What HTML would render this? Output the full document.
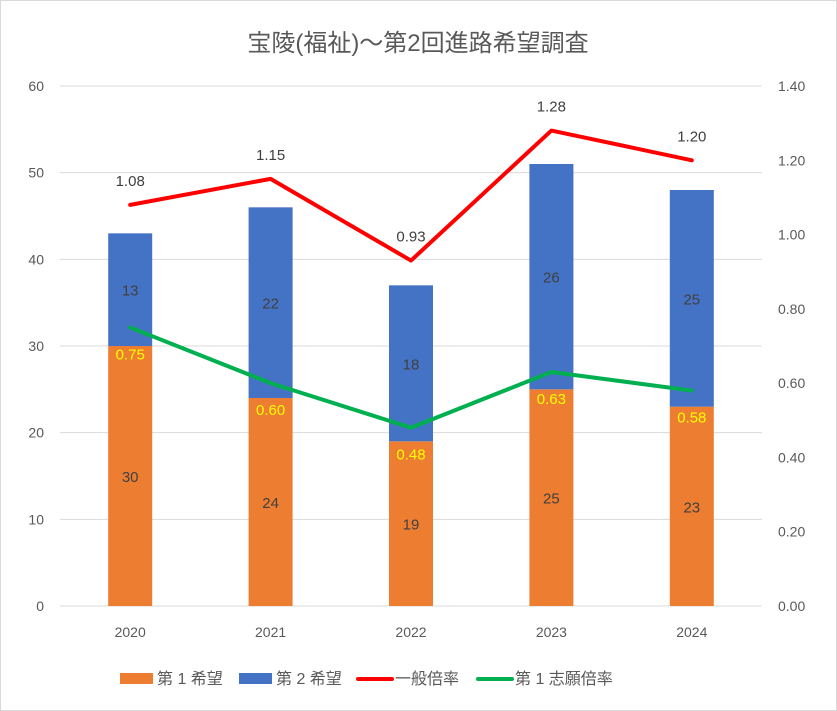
<!DOCTYPE html>
<html><head><meta charset="utf-8">
<style>
html,body{margin:0;padding:0;background:#fff;}
svg{display:block;font-family:"Liberation Sans","Noto Sans CJK JP",sans-serif;}
</style></head>
<body>
<svg id="chart" width="837" height="711" viewBox="0 0 837 711">
<rect x="0.5" y="0.5" width="836" height="710" fill="#fff" stroke="#d9d9d9"/>
<text x="418" y="51" text-anchor="middle" font-size="24" fill="#595959">宝陵(福祉)～第2回進路希望調査</text>
<g id="grid"></g><g id="bars"></g><g id="lines"></g><g id="labels"></g><g id="axes"></g>
<g>
<rect x="120" y="673" width="33" height="11" fill="#ed7d31"/>
<text x="157" y="684" font-size="16" fill="#595959">第 1 希望</text>
<rect x="239" y="673" width="33" height="11" fill="#4472c4"/>
<text x="276" y="684" font-size="16" fill="#595959">第 2 希望</text>
<line x1="358" y1="679" x2="392" y2="679" stroke="#ff0000" stroke-width="4" stroke-linecap="round"/>
<text x="395" y="684" font-size="16" fill="#595959">一般倍率</text>
<line x1="478" y1="679" x2="512" y2="679" stroke="#00b050" stroke-width="4" stroke-linecap="round"/>
<text x="515" y="684" font-size="16" fill="#595959">第 1 志願倍率</text>
</g>
</svg>
<script>
const categories=["2020","2021","2022","2023","2024"];
const firstChoice=[30,24,19,25,23];
const secondChoice=[13,22,18,26,25];
const generalRatio=[1.08,1.15,0.93,1.28,1.20];
const firstRatio=[0.75,0.60,0.48,0.63,0.58];
const leftTicks=[0,10,20,30,40,50,60];
const rightTicks=["0.00","0.20","0.40","0.60","0.80","1.00","1.20","1.40"];

const NS="http://www.w3.org/2000/svg";
const x0=60,x1=762,yBot=606,yTop=86;
const band=(x1-x0)/categories.length;
const xc=i=>x0+band*(i+0.5);
const yL=v=>yBot-v/60*(yBot-yTop);
const yR=v=>yBot-v/1.4*(yBot-yTop);
function mk(tag,attrs,parent,txt){const e=document.createElementNS(NS,tag);for(const k in attrs)e.setAttribute(k,attrs[k]);if(txt!==undefined)e.textContent=txt;document.getElementById(parent).appendChild(e);return e;}

leftTicks.forEach(t=>{
  const g=mk("line",{x1:x0,x2:x1,y1:yL(t),y2:yL(t),stroke:"#d9d9d9","stroke-width":1},"grid");
  
  
  const l=mk("text",{x:44,y:yL(t)+5,"text-anchor":"end","font-size":14,fill:"#595959"},"axes",String(t));
  
  
});
rightTicks.forEach(t=>{
  const l=mk("text",{x:778,y:yR(parseFloat(t))+5,"font-size":14,fill:"#595959"},"axes",t);
  
  
});
categories.forEach((c,i)=>{
  const l=mk("text",{x:xc(i),y:637,"text-anchor":"middle","font-size":14,fill:"#595959"},"axes",c);
  
  
});
const bw=44;
categories.forEach((c,i)=>{
  const f=firstChoice[i],s=secondChoice[i];
  const b1=mk("rect",{x:xc(i)-bw/2,y:yL(f),width:bw,height:yBot-yL(f),fill:"#ed7d31"},"bars");
  
  
  const b2=mk("rect",{x:xc(i)-bw/2,y:yL(f+s),width:bw,height:yL(f)-yL(f+s),fill:"#4472c4"},"bars");
  
  
  const t1=mk("text",{x:xc(i),y:(yL(f)+yBot)/2+6,"text-anchor":"middle","font-size":15,fill:"#404040"},"labels",String(f));
  
  
  const t2=mk("text",{x:xc(i),y:(yL(f)+yL(f+s))/2+6,"text-anchor":"middle","font-size":15,fill:"#404040"},"labels",String(s));
  
  
});
function line(arr,color,name){
  const p=mk("polyline",{points:arr.map((v,i)=>xc(i)+","+yR(v)).join(" "),fill:"none",stroke:color,"stroke-width":4,"stroke-linejoin":"round","stroke-linecap":"round"},"lines");
  
  
}
line(generalRatio,"#ff0000","line-general-ratio");
line(firstRatio,"#00b050","line-first-ratio");
generalRatio.forEach((v,i)=>{
  const t=mk("text",{x:xc(i),y:yR(v)-19,"text-anchor":"middle","font-size":15,fill:"#404040"},"labels",v.toFixed(2));
  
  
});
firstRatio.forEach((v,i)=>{
  const t=mk("text",{x:xc(i),y:yR(v)+32,"text-anchor":"middle","font-size":15,fill:"#ffff00"},"labels",v.toFixed(2));
  
  
});
</script>
</body></html>
